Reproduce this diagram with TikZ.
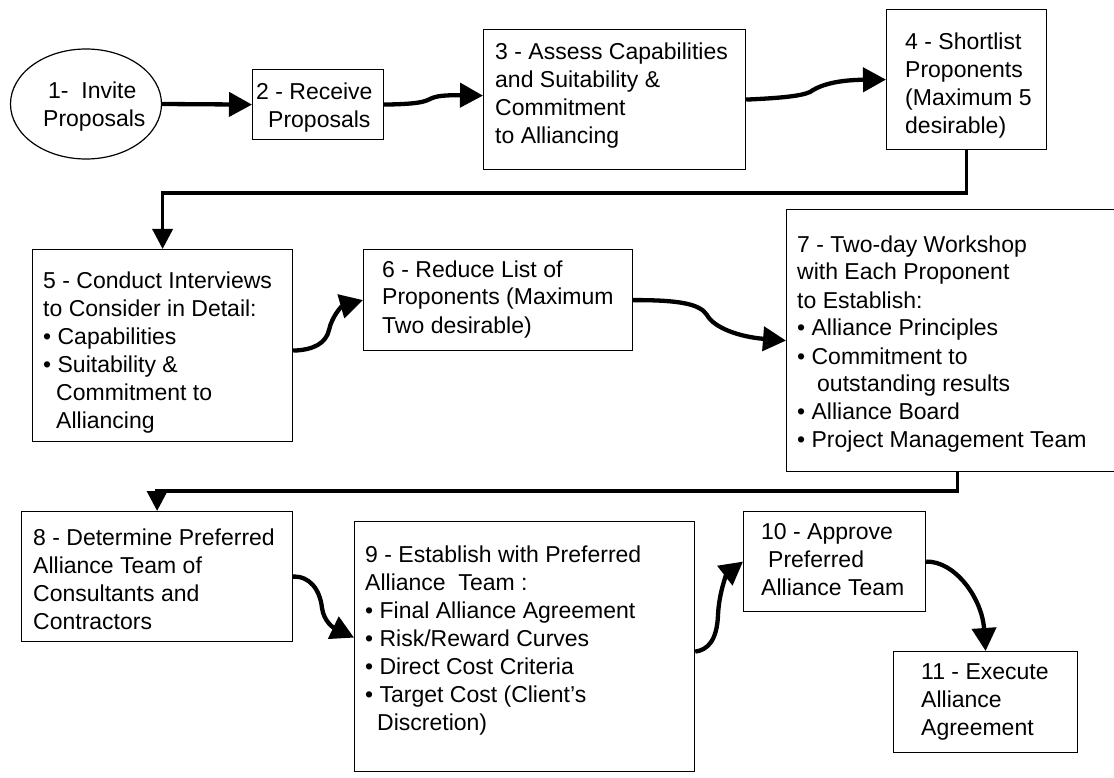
\documentclass[tikz,border=0pt]{standalone}
\usepackage{fontspec}
\setmainfont{Liberation Sans}
\usetikzlibrary{arrows.meta,shapes.geometric}
\begin{document}
\begin{tikzpicture}[x=1pt,y=-1pt,
  box/.style={draw, line width=1.2pt, inner sep=0pt, anchor=north west},
  txt/.style={inner sep=0pt, anchor=base west, font=\fontsize{23}{28}\selectfont},
  conn/.style={line width=4.3pt, -{Triangle[length=23pt,width=24pt]}},
  elb/.style={line width=3.6pt, -{Triangle[length=20pt,width=20pt]}}
]
\useasboundingbox (0,0) rectangle (1114,778);
\fill[white] (0,0) rectangle (1114,778);
\clip (0,0) rectangle (1114,778);

% shapes
\node[draw, ellipse, line width=1.2pt, inner sep=0pt, minimum width=151pt, minimum height=110pt] (e1) at (86,104) {};
\node[box, minimum width=131pt, minimum height=70pt]  (b2)  at (252,69)  {};
\node[box, minimum width=262pt, minimum height=140pt] (b3)  at (483,29)  {};
\node[box, minimum width=160pt, minimum height=140pt] (b4)  at (886,9)   {};
\node[box, minimum width=260pt, minimum height=192pt] (b5)  at (32,249)  {};
\node[box, minimum width=269pt, minimum height=101pt] (b6)  at (363,249) {};
\node[box, minimum width=342pt, minimum height=262pt] (b7)  at (786,209) {};
\node[box, minimum width=271pt, minimum height=130pt] (b8)  at (21,511)  {};
\node[box, minimum width=340pt, minimum height=250pt] (b9)  at (354,521) {};
\node[box, minimum width=182pt, minimum height=100pt] (b10) at (743,511) {};
\node[box, minimum width=184pt, minimum height=101pt] (b11) at (893,651) {};

% texts
\node[txt] (t1) at (43,99) {\begin{tabular}[t]{@{}l@{}}\hspace*{5pt}1-\ \ Invite\\Proposals\end{tabular}};
\node[txt] (t2) at (256,100) {\begin{tabular}[t]{@{}l@{}}2 - Receive\\\hspace*{12pt}Proposals\end{tabular}};
\node[txt] (t3) at (495,60) {\begin{tabular}[t]{@{}l@{}}3 - Assess Capabilities\\and Suitability \&\\Commitment\\to Alliancing\end{tabular}};
\node[txt] (t4) at (905,50) {\begin{tabular}[t]{@{}l@{}}4 - Shortlist\\Proponents\\(Maximum 5\\desirable)\end{tabular}};
\node[txt] (t5) at (43,288) {\begin{tabular}[t]{@{}l@{}}5 - Conduct Interviews\\to Consider in Detail:\\• Capabilities\\• Suitability \&\\\hspace*{13pt}Commitment to\\\hspace*{13pt}Alliancing\end{tabular}};
\node[txt] (t6) at (382,277) {\begin{tabular}[t]{@{}l@{}}6 - Reduce List of\\Proponents (Maximum\\Two desirable)\end{tabular}};
\node[txt] (t7) at (797,252) {\begin{tabular}[t]{@{}l@{}}7 - Two-day Workshop\\with Each Proponent\\to Establish:\\• Alliance Principles\\• Commitment to\\\hspace*{20pt}outstanding results\\• Alliance Board\\• Project Management Team\end{tabular}};
\node[txt] (t8) at (33,545) {\begin{tabular}[t]{@{}l@{}}8 - Determine Preferred\\Alliance Team of\\Consultants and\\Contractors\end{tabular}};
\node[txt] (t9) at (365,562) {\begin{tabular}[t]{@{}l@{}}9 - Establish with Preferred\\Alliance\ \ Team :\\• Final Alliance Agreement\\• Risk/Reward Curves\\• Direct Cost Criteria\\• Target Cost (Client’s\\\hspace*{12pt}Discretion)\end{tabular}};
\node[txt] (t10) at (761,539) {\begin{tabular}[t]{@{}l@{}}10 - Approve\\\hspace*{7pt}Preferred\\Alliance Team\end{tabular}};
\node[txt] (t11) at (921,679) {\begin{tabular}[t]{@{}l@{}}11 - Execute\\Alliance\\Agreement\end{tabular}};

% elbow bend coordinates
\coordinate (k45) at (500,193);
\coordinate (k78) at (500,491);

% connectors
\draw[conn] (e1.east) -- (b2.west);
\draw[conn] (b2.east) .. controls (418,104) and (424,102) .. (430,99) .. controls (436,96) and (444,95) .. ([yshift=4pt]b3.west);
\draw[conn] (b3.east) .. controls (782,98) and (801,96) .. (810,92) .. controls (817,87) and (832,80) .. (b4.west);
\draw[elb] (b4.south) |- (k45) -| (b5.north);
\draw[conn] ([yshift=-5pt]b5.east) .. controls (314,350) and (326,343) .. (329,330) .. controls (332,316) and (342,306) .. (b6.west);
\draw[conn] (b6.east) .. controls (680,300) and (700,304) .. (707,315) .. controls (714,328) and (740,337) .. (b7.west);
\draw[elb] (b7.south) |- (k78) -| (b8.north);
\draw[conn] (b8.east) .. controls (310,576) and (320,590) .. (322,608) .. controls (324,622) and (334,628) .. ([yshift=9pt]b9.west);
\draw[conn] ([yshift=-5pt]b9.east) .. controls (708,650) and (717,640) .. (718,615) .. controls (719,592) and (727,574) .. (b10.west);
\draw[conn] (b10.east) .. controls (955,561) and (982,598) .. (b11.north);
\end{tikzpicture}
\end{document}
